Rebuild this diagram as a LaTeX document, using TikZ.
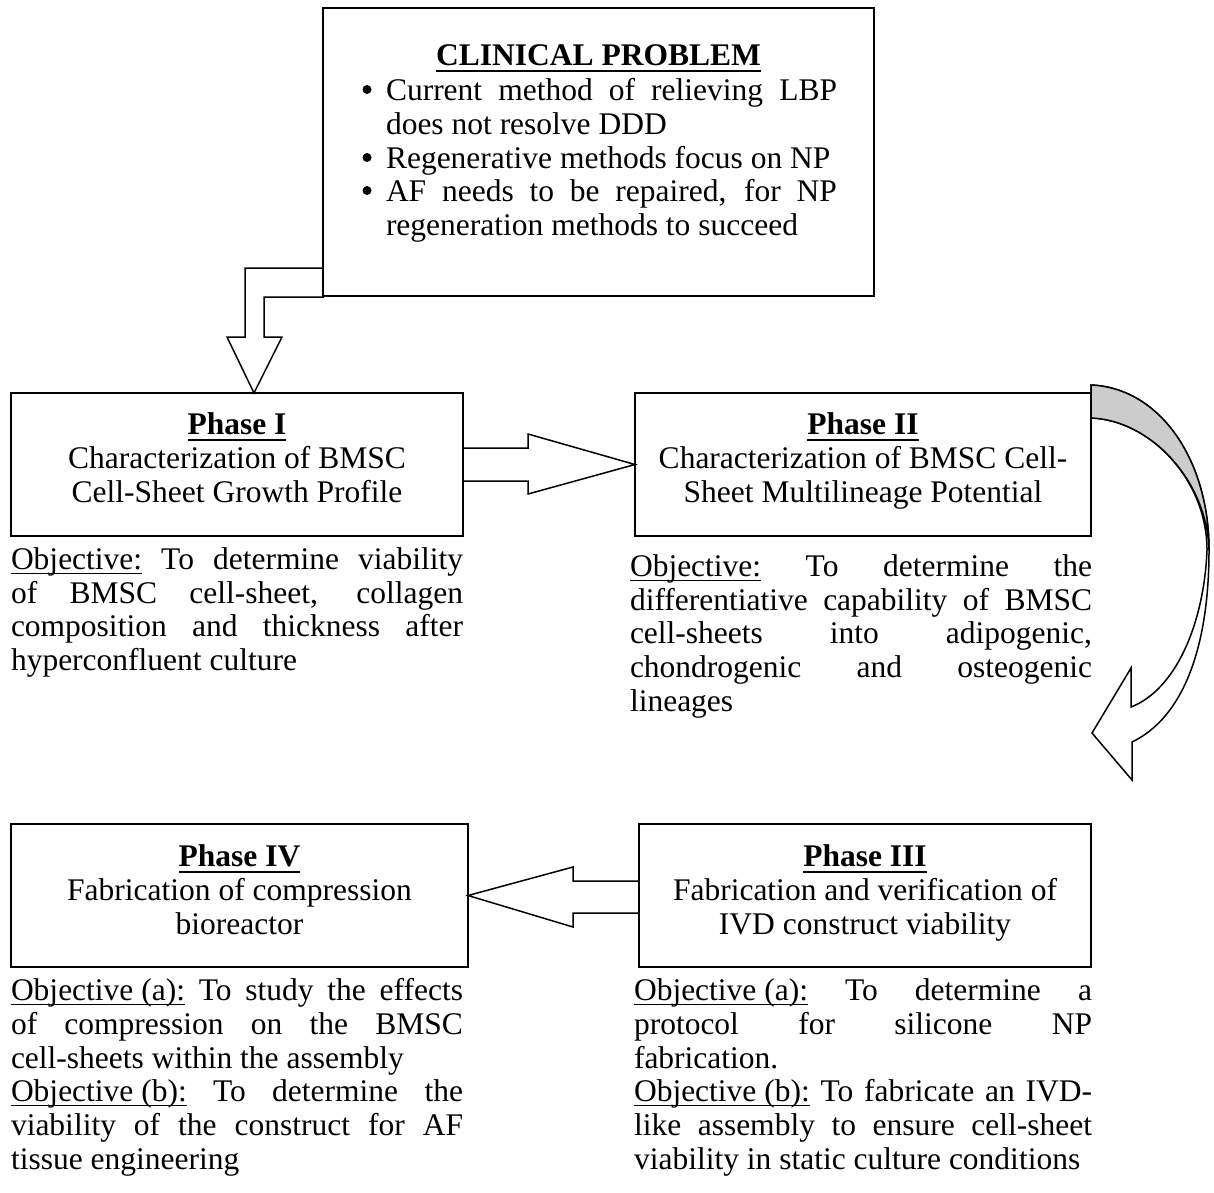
\documentclass[tikz,border=0pt]{standalone}
\usepackage{fontspec}
\setmainfont{Liberation Serif}
\newsavebox\ulbox
\newcommand\uln[1]{\sbox\ulbox{#1}\rlap{\rule[-5pt]{\wd\ulbox}{1.5pt}}\usebox\ulbox}
\newcommand\ulb[1]{\sbox\ulbox{\bfseries #1}\rlap{\rule[-7pt]{\wd\ulbox}{2pt}}\usebox\ulbox}
\newcommand\jl[2]{\makebox[#1][s]{#2}}
\begin{document}
\begin{tikzpicture}[x=1pt,y=-1pt,
  every node/.style={font=\fontsize{31.5}{33.7}\selectfont, inner sep=0pt, outer sep=0pt},
  box/.style={draw, line width=2pt, rectangle},
  blockarrow/.style={draw, fill=white, line width=1.5pt, line join=miter},
  tl/.style={anchor=base west},
  tc/.style={anchor=base}]
\useasboundingbox (0,0) rectangle (1214,1192);

% ---- block arrows ----
\draw[blockarrow] (323,268) -- (245,268) -- (245,337) -- (227,337) -- (254,393) -- (282,337) -- (264,337) -- (264,297) -- (323,297) -- cycle;
\draw[blockarrow] (463,448) -- (528,448) -- (528,434) -- (635,464.5) -- (528,494) -- (528,481) -- (463,481) -- cycle;
\draw[blockarrow] (639,881) -- (573,881) -- (573,867) -- (468,895.5) -- (573,927) -- (573,913) -- (639,913) -- cycle;

% curved arrow (white front)
\draw[blockarrow] (1091,385) .. controls (1160,388) and (1209,460) .. (1209,550)
   .. controls (1209,650) and (1182,718) .. (1132,742)
   -- (1132,780) -- (1092,733) -- (1131,668) -- (1131,707)
   .. controls (1175,690) and (1204,625) .. (1207,550)
   .. controls (1207,480) and (1150,420) .. (1091,418) -- cycle;
% curved arrow (gray back)
\draw[blockarrow, fill=black!20] (1091,385) .. controls (1160,388) and (1209,460) .. (1209,550)
   .. controls (1207,480) and (1150,420) .. (1091,418) -- cycle;

% ---- boxes ----
\node[box, minimum width=551pt, minimum height=288pt] (cp) at (598.5,152) {};
\node[box, minimum width=452pt, minimum height=143pt] (p1) at (237,464.5) {};
\node[box, minimum width=456pt, minimum height=143pt] (p2) at (863,464.5) {};
\node[box, minimum width=457pt, minimum height=143pt] (p4) at (239.5,895.5) {};
\node[box, minimum width=452pt, minimum height=143pt] (p3) at (865,895.5) {};

% ---- clinical problem ----
\node[tc] (cpt) at (598.5,65) {\ulb{CLINICAL PROBLEM}};
\fill (367,89.5) circle (4.5pt);
\fill (367,157.5) circle (4.5pt);
\fill (367,190.5) circle (4.5pt);
\node[tl] (cp1) at (386,100) {\jl{451pt}{Current method of relieving LBP}};
\node[tl] (cp2) at (386,134) {does not resolve DDD};
\node[tl] (cp3) at (386,168) {Regenerative methods focus on NP};
\node[tl] (cp4) at (386,201) {\jl{451pt}{AF needs to be repaired, for NP}};
\node[tl] (cp5) at (386,235) {regeneration methods to succeed};

% ---- phase I ----
\node[tc] (p1t) at (237,434) {\ulb{Phase I}};
\node[tc] (p1a) at (237,468) {Characterization of BMSC};
\node[tc] (p1b) at (237,502) {Cell-Sheet Growth Profile};
\node[tl] (o1a) at (11,569) {\jl{452pt}{\uln{Objective:} To determine viability}};
\node[tl] (o1b) at (11,603) {\jl{452pt}{of BMSC cell-sheet, collagen}};
\node[tl] (o1c) at (11,636) {\jl{452pt}{composition and thickness after}};
\node[tl] (o1d) at (11,670) {hyperconfluent culture};

% ---- phase II ----
\node[tc] (p2t) at (863,434) {\ulb{Phase II}};
\node[tc] (p2a) at (863,468) {Characterization of BMSC Cell-};
\node[tc] (p2b) at (863,502) {Sheet Multilineage Potential};
\node[tl] (o2a) at (630,576) {\jl{462pt}{\uln{Objective:} To determine the}};
\node[tl] (o2b) at (630,610) {\jl{462pt}{differentiative capability of BMSC}};
\node[tl] (o2c) at (630,643) {\jl{462pt}{cell-sheets into adipogenic,}};
\node[tl] (o2d) at (630,677) {\jl{462pt}{chondrogenic and osteogenic}};
\node[tl] (o2e) at (630,711) {lineages};

% ---- phase IV ----
\node[tc] (p4t) at (239.5,866) {\ulb{Phase IV}};
\node[tc] (p4a) at (239.5,900) {Fabrication of compression};
\node[tc] (p4b) at (239.5,934) {bioreactor};
\node[tl] (o4a) at (11,1000) {\jl{452pt}{\uln{Objective (a):} To study the effects}};
\node[tl] (o4b) at (11,1034) {\jl{452pt}{of compression on the BMSC}};
\node[tl] (o4c) at (11,1068) {cell-sheets within the assembly};
\node[tl] (o4d) at (11,1101) {\jl{452pt}{\uln{Objective (b):} To determine the}};
\node[tl] (o4e) at (11,1135) {\jl{452pt}{viability of the construct for AF}};
\node[tl] (o4f) at (11,1169) {tissue engineering};

% ---- phase III ----
\node[tc] (p3t) at (865,866) {\ulb{Phase III}};
\node[tc] (p3a) at (865,900) {Fabrication and verification of};
\node[tc] (p3b) at (865,934) {IVD construct viability};
\node[tl] (o3a) at (634,1000) {\jl{458pt}{\uln{Objective (a):} To determine a}};
\node[tl] (o3b) at (634,1034) {\jl{458pt}{protocol for silicone NP}};
\node[tl] (o3c) at (634,1068) {fabrication.};
\node[tl] (o3d) at (634,1101) {\jl{458pt}{\uln{Objective (b):} To fabricate an IVD-}};
\node[tl] (o3e) at (634,1135) {\jl{458pt}{like assembly to ensure cell-sheet}};
\node[tl] (o3f) at (634,1169) {viability in static culture conditions};
\end{tikzpicture}
\end{document}
